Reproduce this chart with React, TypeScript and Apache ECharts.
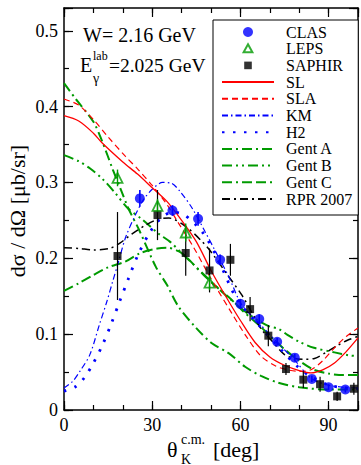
import React, { useEffect, useRef } from 'react';
import * as echarts from 'echarts';

const FONT = "'Liberation Serif', 'Times New Roman', serif";
const BLUE = '#0000ff';
const RED = '#ff0000';
const GREEN = '#009a00';
const BLACK = '#000000';

// Experimental data
const clasX = [25.8, 36.9, 45.6, 53.1, 60, 66.4, 72.5, 78.5, 84.3, 90, 95.7];
const clasY = [0.279, 0.263, 0.252, 0.198, 0.140, 0.120, 0.090, 0.069, 0.041, 0.030, 0.027];
const clasErr = [0.011, 0.007, 0.009, 0.007, 0.006, 0.006, 0.005, 0.005, 0.004, 0.004, 0.004];

const lepsX = [18.2, 31.8, 41.4, 49.5];
const lepsY = [0.306, 0.269, 0.234, 0.168];
const lepsErr = [0.011, 0.009, 0.012, 0.01];

const sapX = [18.2, 31.8, 41.4, 49.5, 56.6, 63.3, 69.5, 75.5, 81.4, 87.1, 92.9, 98.6];
const sapY = [0.203, 0.257, 0.207, 0.184, 0.198, 0.133, 0.098, 0.054, 0.040, 0.034, 0.018, 0.028];
const sapErr = [0.058, 0.033, 0.030, 0.029, 0.021, 0.016, 0.014, 0.008, 0.011, 0.010, 0.006, 0.008];

// Model curves [theta, dsigma]
const SL: [number, number][] = [
  [0, 0.388], [5, 0.381], [10, 0.365], [13, 0.352], [20, 0.327], [25, 0.311], [30, 0.293],
  [35, 0.275], [40, 0.25], [45, 0.222], [50, 0.184], [55, 0.15], [60, 0.118], [65, 0.089],
  [70, 0.07], [75, 0.059], [80, 0.052], [84, 0.049], [88, 0.053], [92, 0.062], [96, 0.077], [100, 0.095],
];
const SLA: [number, number][] = [
  [0, 0.41], [5, 0.402], [10, 0.383], [15, 0.36], [21, 0.334], [25, 0.318], [30, 0.296],
  [35, 0.271], [39, 0.246], [44, 0.215], [48, 0.187], [52, 0.16], [57, 0.128], [62, 0.097],
  [67, 0.071], [72, 0.058], [76, 0.053], [80, 0.051], [84, 0.053], [88, 0.065], [92, 0.082],
  [96, 0.097], [100, 0.108],
];
const KM: [number, number][] = [
  [0, 0.029], [3, 0.038], [5.4, 0.051], [8.8, 0.073], [12, 0.112], [14.5, 0.142], [16.6, 0.17],
  [18.5, 0.195], [21, 0.228], [24.5, 0.259], [27, 0.277], [30, 0.291], [33.5, 0.3], [36.5, 0.299],
  [39.5, 0.288], [43.6, 0.266], [48, 0.235], [51, 0.213], [56, 0.176], [60.4, 0.139], [66, 0.116],
  [72.8, 0.088], [78.4, 0.066], [84, 0.042], [89.6, 0.033], [95, 0.03], [100, 0.029],
];
const H2: [number, number][] = [
  [0, 0.025], [4, 0.031], [7, 0.043], [10, 0.062], [13, 0.085], [16, 0.113], [19, 0.144],
  [22, 0.174], [25, 0.203], [29, 0.233], [33, 0.253], [37, 0.261], [41, 0.257], [47, 0.235],
  [52, 0.202], [58.7, 0.147], [66, 0.113], [74, 0.079], [79.5, 0.057], [84, 0.044], [90, 0.033],
  [96, 0.029], [100, 0.028],
];
const GENT_A: [number, number][] = [
  [0, 0.431], [4, 0.41], [10, 0.38], [13, 0.354], [16.6, 0.317], [19.4, 0.29], [22, 0.265],
  [25.6, 0.237], [31.2, 0.189], [35, 0.165], [39, 0.136], [45, 0.108], [50.3, 0.088], [56, 0.075],
  [61.6, 0.057], [67, 0.045], [72.8, 0.036], [80, 0.03], [90, 0.027], [100, 0.027],
];
const GENT_B: [number, number][] = [
  [0, 0.336], [5, 0.328], [9, 0.318], [13, 0.305], [17, 0.288], [21.7, 0.266], [26.7, 0.251],
  [32, 0.233], [36, 0.222], [40, 0.207], [44, 0.192], [48, 0.177], [52, 0.162], [56, 0.148],
  [61.6, 0.13], [66, 0.118], [70, 0.11], [73, 0.107], [76, 0.099], [80, 0.09], [85, 0.082],
  [92, 0.076], [97, 0.072], [100, 0.071],
];
const GENT_C: [number, number][] = [
  [0, 0.157], [5, 0.167], [10, 0.178], [15, 0.188], [21, 0.196], [26, 0.207], [31.8, 0.213],
  [35, 0.214], [39.1, 0.209], [42, 0.2], [47.5, 0.178], [52, 0.162], [56, 0.149], [61, 0.13],
  [66, 0.113], [70, 0.098], [75, 0.08], [80, 0.065], [85, 0.053], [90, 0.048], [95, 0.046], [100, 0.046],
];
const RPR: [number, number][] = [
  [0, 0.214], [5, 0.213], [10, 0.211], [15.5, 0.213], [19, 0.22], [23.4, 0.233], [27.9, 0.244],
  [32.4, 0.252], [35.7, 0.253], [41.4, 0.242], [47, 0.222], [50.3, 0.207], [56, 0.176],
  [60.4, 0.152], [64, 0.128], [67.2, 0.106], [70.5, 0.092], [75, 0.073], [78.4, 0.068],
  [82, 0.067], [85.2, 0.068], [89.6, 0.077], [93, 0.085], [96.4, 0.092], [100, 0.097],
];

const xTickLabels = ['0', '30', '60', '90'];
const yTickLabels = ['0', '0.1', '0.2', '0.3', '0.4', '0.5'];
const pointNames = ['CLAS', 'LEPS', 'SAPHIR'];
const lineNames = ['SL', 'SLA', 'KM', 'H2', 'Gent A', 'Gent B', 'Gent C', 'RPR 2007'];

const TRI_ICON = 'path://M0,0L0,0M5,0.6L9.4,8.6L0.6,8.6ZM10,10L10,10';
const SQ_ICON = 'path://M0,0L0,0M1.2,1.2L8.8,1.2L8.8,8.8L1.2,8.8ZM10,10L10,10';

function curve(name: string, data: [number, number][], color: string, width: number, type: any) {
  return {
    type: 'line', name, data, smooth: 0.3, symbol: 'none', z: 2,
    lineStyle: { color, width, type },
    itemStyle: { color },
  };
}

function errBars(name: string, xs: number[], ys: number[], es: number[], color: string, width: number) {
  return {
    type: 'custom', name, silent: true, z: 3,
    data: xs.map((x, i) => [x, ys[i], es[i]]),
    encode: { x: 0, y: 1 },
    renderItem: (_p: any, api: any) => {
      const x = api.value(0), y = api.value(1), e = api.value(2);
      const a = api.coord([x, y - e]);
      const b = api.coord([x, y + e]);
      return {
        type: 'line',
        shape: { x1: a[0], y1: a[1], x2: b[0], y2: b[1] },
        style: { stroke: color, lineWidth: width },
      };
    },
  };
}

function xAxis(position: string, interval: number, len: number, line: boolean, labels: boolean) {
  return {
    type: 'value', position, min: 0, max: 100, interval,
    axisLine: { show: line, onZero: false, lineStyle: { color: BLACK, width: 1.5 } },
    axisTick: { show: true, inside: true, length: len, lineStyle: { color: BLACK, width: 1.2 } },
    axisLabel: {
      show: labels, margin: 6, color: BLACK, fontSize: 18, fontFamily: FONT,
      formatter: (v: number) => (xTickLabels.includes(String(v)) ? String(v) : ''),
    },
    splitLine: { show: false },
  };
}

function yAxis(position: string, interval: number, len: number, line: boolean, labels: boolean) {
  return {
    type: 'value', position, min: 0, max: 0.53, interval,
    axisLine: { show: line, onZero: false, lineStyle: { color: BLACK, width: 1.5 } },
    axisTick: { show: true, inside: true, length: len, lineStyle: { color: BLACK, width: 1.2 } },
    axisLabel: {
      show: labels, margin: 6, color: BLACK, fontSize: 18, fontFamily: FONT,
      formatter: (v: number) => {
        const s = String(Math.round(v * 100) / 100);
        return yTickLabels.includes(s) ? s : '';
      },
    },
    splitLine: { show: false },
  };
}

function txt(x: number, y: number, text: string, size: number, extra: any = {}) {
  return {
    type: 'text', x, y, ...extra,
    style: { text, fontSize: size, fontFamily: FONT, fill: BLACK, align: 'left', verticalAlign: 'middle', ...(extra.style || {}) },
  };
}

const legendData = [
  { name: 'CLAS', icon: 'circle' },
  { name: 'LEPS', icon: TRI_ICON },
  { name: 'SAPHIR', icon: SQ_ICON },
  ...lineNames.map((n) => ({ name: n, itemStyle: { opacity: 0, color: 'rgba(0,0,0,0)', borderWidth: 0 } })),
];

const option: any = {
  animation: false,
  backgroundColor: '#ffffff',
  grid: { left: 64, right: 1, top: 8, bottom: 55, containLabel: false },
  xAxis: [
    xAxis('bottom', 30, 9, true, true),
    xAxis('bottom', 10, 5, false, false),
    xAxis('top', 30, 9, true, false),
    xAxis('top', 10, 5, false, false),
  ],
  yAxis: [
    yAxis('left', 0.1, 9, true, true),
    yAxis('left', 0.05, 5, false, false),
    yAxis('right', 0.1, 9, true, false),
    yAxis('right', 0.05, 5, false, false),
  ],
  legend: {
    orient: 'vertical', left: 213, top: 20, padding: [4, 6, 8, 8],
    itemWidth: 52, itemHeight: 10, itemGap: 0.7, symbolKeepAspect: true,
    backgroundColor: '#ffffff', borderColor: BLACK, borderWidth: 1, borderRadius: 0,
    textStyle: { color: BLACK, fontSize: 16, fontFamily: FONT, lineHeight: 16, padding: [0, 0, 0, 7] },
    data: legendData,
    selectedMode: false,
  },
  series: [
    curve('Gent A', GENT_A, GREEN, 2, [10, 4, 2, 4]),
    curve('Gent B', GENT_B, GREEN, 2, [10, 4, 2, 4, 2, 4]),
    curve('Gent C', GENT_C, GREEN, 2, [10, 4, 2, 4, 10, 4]),
    curve('RPR 2007', RPR, BLACK, 1.5, [8, 4, 2, 4]),
    curve('KM', KM, BLUE, 1.2, [6, 3, 1.5, 3]),
    curve('H2', H2, BLUE, 2.8, [2.5, 8.5]),
    curve('SLA', SLA, RED, 1.2, [6, 4]),
    curve('SL', SL, RED, 1.3, 'solid'),
    errBars('SAPHIR-err', sapX, sapY, sapErr, BLACK, 1.2),
    errBars('LEPS-err', lepsX, lepsY, lepsErr, GREEN, 1.4),
    errBars('CLAS-err', clasX, clasY, clasErr, BLUE, 1.6),
    {
      type: 'scatter', name: pointNames[2], symbol: 'rect', symbolSize: 8, z: 4,
      data: sapX.map((x, i) => [x, sapY[i]]),
      itemStyle: { color: BLACK },
    },
    {
      type: 'scatter', name: pointNames[1], symbol: 'triangle', symbolSize: 10, z: 4,
      data: lepsX.map((x, i) => [x, lepsY[i]]),
      itemStyle: { color: 'rgba(255,255,255,0)', borderColor: GREEN, borderWidth: 1.8 },
    },
    {
      type: 'scatter', name: pointNames[0], symbol: 'circle', symbolSize: 10, z: 5,
      data: clasX.map((x, i) => [x, clasY[i]]),
      itemStyle: { color: BLUE },
    },
  ],
  graphic: [
    txt(83, 35, 'W= 2.16 GeV', 20),
    txt(80, 65, 'E', 20),
    txt(93, 56, 'lab', 12),
    txt(93, 78, 'γ', 14),
    txt(109, 65, '=2.025 GeV', 19.5),
    txt(167, 449, 'θ', 22),
    txt(181, 439, 'c.m.', 14),
    txt(181, 459, 'K', 14),
    txt(213, 449, '[deg]', 22),
    txt(17, 211, 'dσ / dΩ [μb/sr]', 22, { rotation: Math.PI / 2, style: { align: 'center' } }),
  ],
};

export default function App() {
  const ref = useRef<HTMLDivElement>(null);
  useEffect(() => {
    const chart = echarts.init(ref.current!, null, { renderer: 'svg' });
    chart.setOption(option);
    return () => chart.dispose();
  }, []);
  return (
    <div
      ref={ref}
      style={{ position: 'absolute', left: 0, top: 0, width: 361, height: 465, background: '#fff' }}
    />
  );
}
